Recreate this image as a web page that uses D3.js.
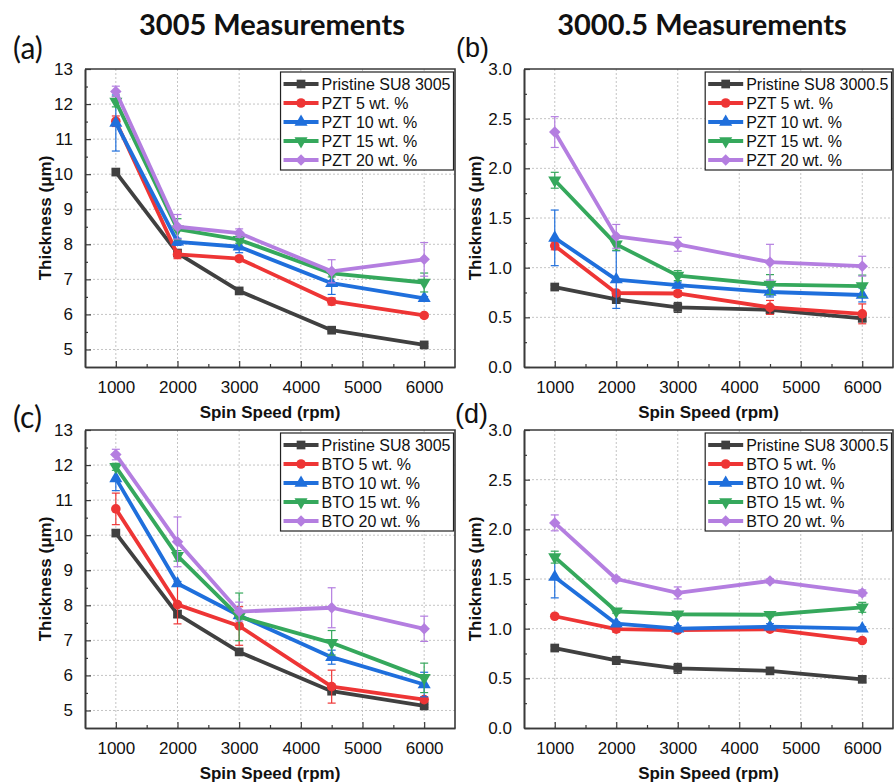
<!DOCTYPE html>
<html>
<head>
<meta charset="utf-8">
<script src="https://cdn.jsdelivr.net/npm/d3@7"></script>
<style>
  html, body { margin: 0; padding: 0; background: #fff; }
  svg { display: block; }
  .tick-label { font-family: "Liberation Sans", Arial, sans-serif; font-size: 17px; fill: #111; }
  .axis-title { font-family: "Liberation Sans", Arial, sans-serif; font-size: 17px; font-weight: bold; fill: #111; }
  .legend-text { font-family: "Liberation Sans", Arial, sans-serif; font-size: 16px; fill: #111; }
</style>
</head>
<body>
<svg id="chart" width="896" height="784"></svg>
<script>
// Spin speeds (rpm) used for every film
const spinSpeeds = [1000, 2000, 3000, 4500, 6000];

// Bare SU8 films (µm)
const pristine3005 = [10.06, 7.75, 6.67, 5.55, 5.13];
const pristine3005Err = [0.08, 0.1, 0.04, 0.04, 0.04];
const pristine30005 = [0.805, 0.68, 0.60, 0.575, 0.49];
const pristine30005Err = [0.02, 0.04, 0.05, 0.03, 0.03];

// PZT composites in SU8 3005: 5, 10, 15, 20 wt. %
const pzt3005 = [
  [11.51, 7.71, 7.59, 6.37, 5.97],
  [11.46, 8.07, 7.93, 6.89, 6.46],
  [12.07, 8.43, 8.13, 7.17, 6.91],
  [12.36, 8.50, 8.32, 7.23, 7.57]
];
const pzt3005Err = [
  [0.15, 0.12, 0.05, 0.1, 0.05],
  [0.8, 0.1, 0.17, 0.32, 0.05],
  [0.15, 0.3, 0.1, 0.1, 0.27],
  [0.15, 0.35, 0.12, 0.33, 0.48]
];

// PZT composites in SU8 3000.5
const pzt30005 = [
  [1.22, 0.745, 0.74, 0.60, 0.535],
  [1.30, 0.88, 0.825, 0.755, 0.725],
  [1.88, 1.235, 0.92, 0.83, 0.815],
  [2.365, 1.315, 1.235, 1.055, 1.015]
];
const pzt30005Err = [
  [0.04, 0.02, 0.03, 0.07, 0.1],
  [0.28, 0.29, 0.03, 0.05, 0.07],
  [0.08, 0.06, 0.05, 0.1, 0.11],
  [0.155, 0.12, 0.07, 0.18, 0.1]
];

// BTO composites in SU8 3005
const bto3005 = [
  [10.75, 8.02, 7.41, 5.68, 5.31],
  [11.62, 8.62, 7.71, 6.52, 5.74],
  [11.95, 9.41, 7.67, 6.93, 5.93],
  [12.30, 9.81, 7.82, 7.93, 7.33]
];
const bto3005Err = [
  [0.45, 0.55, 0.55, 0.47, 0.06],
  [0.35, 0.06, 0.08, 0.2, 0.35],
  [0.1, 0.15, 0.68, 0.35, 0.42],
  [0.15, 0.71, 0.27, 0.57, 0.36]
];

// BTO composites in SU8 3000.5
const bto30005 = [
  [1.125, 0.995, 0.985, 0.995, 0.88],
  [1.52, 1.05, 1.00, 1.02, 1.00],
  [1.72, 1.175, 1.145, 1.14, 1.215],
  [2.065, 1.50, 1.36, 1.48, 1.36]
];
const bto30005Err = [
  [0.02, 0.03, 0.02, 0.02, 0.02],
  [0.21, 0.02, 0.03, 0.03, 0.02],
  [0.06, 0.02, 0.02, 0.02, 0.05],
  [0.08, 0.02, 0.06, 0.02, 0.03]
];

// Legend entries
const fillerLevels = ["5 wt. %", "10 wt. %", "15 wt. %", "20 wt. %"];

// Axis ticks
const xTicks = [1000, 2000, 3000, 4000, 5000, 6000];
const xMinorTicks = [1500, 2500, 3500, 4500, 5500];
const yTicks3005 = [5, 6, 7, 8, 9, 10, 11, 12, 13];
const yMinor3005 = [5.5, 6.5, 7.5, 8.5, 9.5, 10.5, 11.5, 12.5];
const yTicks30005 = [0.0, 0.5, 1.0, 1.5, 2.0, 2.5, 3.0];
const yMinor30005 = [0.25, 0.75, 1.25, 1.75, 2.25, 2.75];

const colors = ["#404040", "#ee3535", "#1f6fdc", "#35a85c", "#b47ee0"];
const markerShapes = ["square", "circle", "triangle", "triangleDown", "diamond"];

const svg = d3.select("#chart");

function markerPath(shape) {
  switch (shape) {
    case "square": return d3.symbol(d3.symbolSquare, 76)();
    case "circle": return d3.symbol(d3.symbolCircle, 72)();
    case "triangle": return d3.symbol(d3.symbolTriangle, 74)();
    case "triangleDown": return d3.symbol(d3.symbolTriangle, 74)();
    case "diamond": return d3.symbol(d3.symbolSquare, 66)();
  }
}
function markerRotation(shape) {
  if (shape === "triangleDown") return 180;
  if (shape === "diamond") return 45;
  return 0;
}

function drawPanel(cfg) {
  const { left, right, top, bottom } = cfg.box;
  const x = d3.scaleLinear().domain([500, 6500]).range([left, right]);
  const y = d3.scaleLinear().domain(cfg.yDomain).range([bottom, top]);
  const g = svg.append("g");

  // dotted grid
  const grid = g.append("g").attr("stroke", "#c4c4c4").attr("stroke-width", 1).attr("stroke-dasharray", "2,2");
  grid.selectAll("line.vx").data(xTicks).join("line")
    .attr("x1", d => x(d)).attr("x2", d => x(d)).attr("y1", top).attr("y2", bottom);
  grid.selectAll("line.hy").data(cfg.yTicks.filter(v => v !== cfg.yDomain[0] && v !== cfg.yDomain[1])).join("line")
    .attr("x1", left).attr("x2", right).attr("y1", d => y(d)).attr("y2", d => y(d));

  // axes with inward ticks
  const xAxis = d3.axisBottom(x).tickValues(xTicks).tickSizeInner(-6).tickSizeOuter(0).tickPadding(14).tickFormat(d3.format("d"));
  const xg = g.append("g").attr("transform", `translate(0,${bottom})`).call(xAxis);
  const xMinor = d3.axisBottom(x).tickValues(xMinorTicks).tickSizeInner(-3).tickSizeOuter(0).tickFormat("");
  const xmg = g.append("g").attr("transform", `translate(0,${bottom})`).call(xMinor);
  const yAxis = d3.axisLeft(y).tickValues(cfg.yTicks).tickSizeInner(-6).tickSizeOuter(0).tickPadding(12).tickFormat(cfg.yFormat);
  const yg = g.append("g").attr("transform", `translate(${left},0)`).call(yAxis);
  const yMinor = d3.axisLeft(y).tickValues(cfg.yMinor).tickSizeInner(-3).tickSizeOuter(0).tickFormat("");
  const ymg = g.append("g").attr("transform", `translate(${left},0)`).call(yMinor);
  [xg, xmg, yg, ymg].forEach(a => {
    a.selectAll(".domain").attr("stroke", "#3a3a3a").attr("stroke-width", 1.6);
    a.selectAll(".tick line").attr("stroke", "#3a3a3a").attr("stroke-width", 1.2);
    a.selectAll(".tick text").attr("class", "tick-label").attr("font-family", null).attr("font-size", null);
  });
  // top and right frame
  g.append("path")
    .attr("d", `M${left},${top}H${right}V${bottom}`)
    .attr("fill", "none").attr("stroke", "#3a3a3a").attr("stroke-width", 1.6);

  // axis titles
  g.append("text").attr("class", "axis-title")
    .attr("x", (left + right) / 2).attr("y", bottom + 51)
    .attr("text-anchor", "middle").text("Spin Speed (rpm)");
  g.append("text").attr("class", "axis-title")
    .attr("transform", `translate(${left + cfg.yTitleOffset},${(top + bottom) / 2}) rotate(-90)`)
    .attr("text-anchor", "middle").attr("dy", "0.35em").text("Thickness (μm)");

  // series
  cfg.series.forEach((s, i) => {
    const sg = g.append("g");
    const col = colors[i];
    const pts = spinSpeeds.map((v, k) => ({ x: v, y: s.values[k], e: s.errors[k] }));
    // error bars
    const eb = sg.append("g").attr("stroke", col).attr("stroke-width", 1.2);
    pts.forEach(p => {
      const y1 = y(p.y + p.e), y2 = y(p.y - p.e), cx = x(p.x);
      eb.append("line").attr("x1", cx).attr("x2", cx).attr("y1", y1).attr("y2", y2);
      eb.append("line").attr("x1", cx - 4).attr("x2", cx + 4).attr("y1", y1).attr("y2", y1);
      eb.append("line").attr("x1", cx - 4).attr("x2", cx + 4).attr("y1", y2).attr("y2", y2);
    });
    sg.append("path").datum(pts)
      .attr("fill", "none").attr("stroke", col).attr("stroke-width", 3.8).attr("stroke-linejoin", "round")
      .attr("d", d3.line().x(d => x(d.x)).y(d => y(d.y)));
    sg.selectAll("path.mk").data(pts).join("path")
      .attr("class", "mk")
      .attr("d", markerPath(markerShapes[i]))
      .attr("fill", col)
      .attr("transform", d => `translate(${x(d.x)},${y(d.y)}) rotate(${markerRotation(markerShapes[i])})`);
  });

  // legend
  const lg = g.append("g");
  const rowH = 19;
  const texts = [];
  cfg.series.forEach((s, i) => {
    const ty = top + 15 + i * rowH;
    texts.push(lg.append("text").attr("class", "legend-text").attr("y", ty).attr("dy", "0.35em").text(s.name));
  });
  const maxW = d3.max(texts, t => t.node().getComputedTextLength());
  const boxRight = right - 1.5;
  const boxLeft = boxRight - (maxW + 44);
  lg.insert("rect", ":first-child")
    .attr("x", boxLeft).attr("y", top + 3)
    .attr("width", boxRight - boxLeft).attr("height", rowH * 5 + 3)
    .attr("fill", "#fff").attr("stroke", "#222").attr("stroke-width", 1.2);
  texts.forEach(t => t.attr("x", boxLeft + 41));
  cfg.series.forEach((s, i) => {
    const ty = top + 15 + i * rowH;
    lg.append("line").attr("x1", boxLeft + 3).attr("x2", boxLeft + 38).attr("y1", ty).attr("y2", ty)
      .attr("stroke", colors[i]).attr("stroke-width", 3.8);
    lg.append("path").attr("d", markerPath(markerShapes[i])).attr("fill", colors[i])
      .attr("transform", `translate(${boxLeft + 20.5},${ty}) rotate(${markerRotation(markerShapes[i])})`);
  });

  // panel tag
  svg.append("text")
    .attr("x", cfg.tag.x).attr("y", cfg.tag.y).attr("dy", "0.35em")
    .attr("font-family", cfg.tag.font).attr("font-size", cfg.tag.size).attr("fill", "#111")
    .text(cfg.tag.text);
}

function buildSeries(pristine, pristineErr, pristineName, vals, errs, filler) {
  return [{ name: pristineName, values: pristine, errors: pristineErr }]
    .concat(vals.map((v, i) => ({ name: `${filler} ${fillerLevels[i]}`, values: v, errors: errs[i] })));
}

const fmt1 = d3.format(".1f");
const fmt0 = d3.format("d");

drawPanel({
  box: { left: 85, right: 455, top: 69, bottom: 367 },
  yDomain: [4.5, 13], yTicks: yTicks3005, yMinor: yMinor3005, yFormat: fmt0, yTitleOffset: -40,
  series: buildSeries(pristine3005, pristine3005Err, "Pristine SU8 3005", pzt3005, pzt3005Err, "PZT"),
  tag: { text: "(a)", x: 13, y: 48, font: "Lato, 'Open Sans', sans-serif", size: "30px" }
});
drawPanel({
  box: { left: 524, right: 893, top: 69, bottom: 367 },
  yDomain: [0, 3], yTicks: yTicks30005, yMinor: yMinor30005, yFormat: fmt1, yTitleOffset: -49,
  series: buildSeries(pristine30005, pristine30005Err, "Pristine SU8 3000.5", pzt30005, pzt30005Err, "PZT"),
  tag: { text: "(b)", x: 456, y: 48, font: "'Liberation Sans', Arial, sans-serif", size: "27px" }
});
drawPanel({
  box: { left: 85, right: 455, top: 430, bottom: 728 },
  yDomain: [4.5, 13], yTicks: yTicks3005, yMinor: yMinor3005, yFormat: fmt0, yTitleOffset: -40,
  series: buildSeries(pristine3005, pristine3005Err, "Pristine SU8 3005", bto3005, bto3005Err, "BTO"),
  tag: { text: "(c)", x: 13, y: 417, font: "Lato, 'Open Sans', sans-serif", size: "30px" }
});
drawPanel({
  box: { left: 524, right: 893, top: 430, bottom: 728 },
  yDomain: [0, 3], yTicks: yTicks30005, yMinor: yMinor30005, yFormat: fmt1, yTitleOffset: -49,
  series: buildSeries(pristine30005, pristine30005Err, "Pristine SU8 3000.5", bto30005, bto30005Err, "BTO"),
  tag: { text: "(d)", x: 455, y: 414, font: "'Liberation Sans', Arial, sans-serif", size: "27px" }
});

// column headings
svg.append("text").attr("x", 272).attr("y", 25).attr("dy", "0.35em").attr("text-anchor", "middle")
  .attr("font-family", "Lato, 'Open Sans', sans-serif").attr("font-weight", "bold").attr("font-size", "29px").attr("fill", "#111")
  .text("3005 Measurements");
svg.append("text").attr("x", 702).attr("y", 25).attr("dy", "0.35em").attr("text-anchor", "middle")
  .attr("font-family", "Lato, 'Open Sans', sans-serif").attr("font-weight", "bold").attr("font-size", "29px").attr("fill", "#111")
  .text("3000.5 Measurements");
</script>
</body>
</html>
